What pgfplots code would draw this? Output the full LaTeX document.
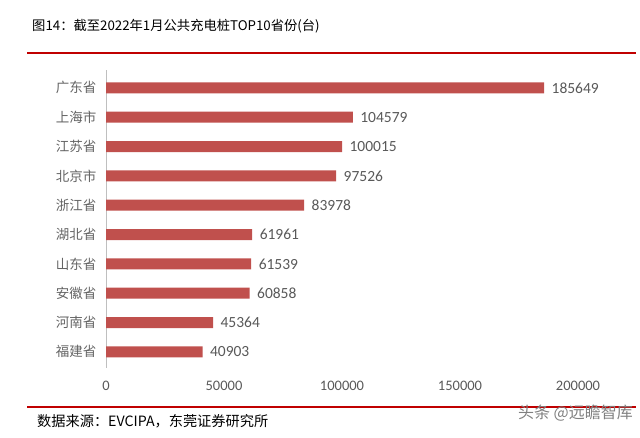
\documentclass[border=0pt]{standalone}
\usepackage{fontspec}
\usepackage{pgfplots}
\pgfplotsset{compat=1.18}
\setmainfont{Noto Sans CJK SC}
\newfontfamily\cjk{Noto Sans CJK SC}
\newfontfamily\num{Carlito}
\definecolor{barred}{RGB}{192,80,77}
\definecolor{lblgray}{RGB}{89,89,89}
\definecolor{catgray}{RGB}{100,100,100}
\definecolor{linered}{RGB}{192,0,0}
\begin{document}
\begin{tikzpicture}[x=1pt,y=1pt]
\useasboundingbox (0,0) rectangle (640,438);
\node[anchor=west,inner sep=0,font=\cjk\fontsize{13.3}{14}\selectfont] at (32,412) {图14：截至2022年1月公共充电桩TOP10省份(台)};
\draw[linered,line width=1.2pt] (27,385) -- (636,385);
\draw[linered,line width=1.2pt] (27,31) -- (636,31);
\node[anchor=west,inner sep=0,font=\cjk\fontsize{14.2}{15}\selectfont] at (37,17) {数据来源：EVCIPA，东莞证券研究所};
\node[anchor=east,inner sep=0,text=gray,font=\cjk\fontsize{16}{17}\selectfont] at (633,25) {头条 @远瞻智库};
\begin{axis}[
  at={(106pt,70pt)}, anchor=south west,
  scale only axis, width=472pt, height=297.7pt,
  xbar, bar width=11pt,
  xmin=0, xmax=200000, ymin=-0.55, ymax=9.6,
  axis lines*=left,
  x axis line style={draw=none},
  y axis line style={draw=gray!50, line width=0.8pt, -},
  major tick length=0pt,
  xtick={0,50000,100000,150000,200000},
  scaled x ticks=false,
  ytick={0,1,2,3,4,5,6,7,8,9},
  yticklabels={福建省,河南省,安徽省,山东省,湖北省,浙江省,北京市,江苏省,上海市,广东省},
  xticklabel={\pgfmathprintnumber[fixed,precision=0,1000 sep={},assume math mode=true]{\tick}},
  xticklabel style={font=\num\fontsize{14.5}{16}\selectfont, text=lblgray, yshift=-10pt},
  yticklabel style={font=\cjk\fontsize{13.5}{15}\selectfont, text=catgray, xshift=-6pt},
  nodes near coords={\pgfmathprintnumber[fixed,precision=0,1000 sep={},assume math mode=true]{\pgfplotspointmeta}},
  nodes near coords style={font=\num\fontsize{15.5}{17}\selectfont, text=lblgray, xshift=4pt},
]
\addplot[fill=barred, draw=none] coordinates {
(40903,0) (45364,1) (60858,2) (61539,3) (61961,4) (83978,5) (97526,6) (100015,7) (104579,8) (185649,9)
};
\end{axis}
\end{tikzpicture}
\end{document}
